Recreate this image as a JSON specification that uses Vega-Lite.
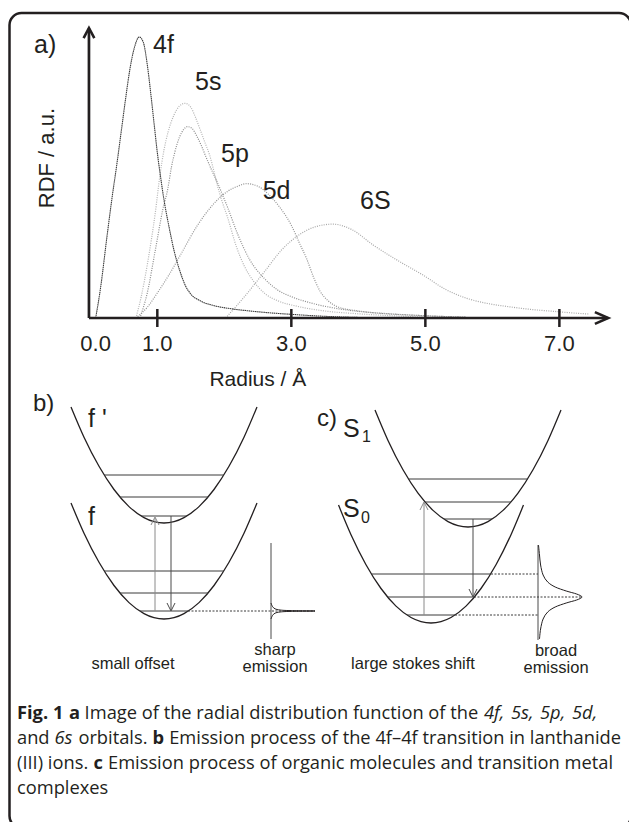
{
  "$schema": "https://vega.github.io/schema/vega-lite/v6.json",
  "width": 629,
  "height": 822,
  "padding": 0,
  "autosize": {"type": "none"},
  "background": "white",
  "config": {"view": {"stroke": null}},
  "resolve": {"scale": {"x": "independent", "y": "independent"}},
  "layer": [
    {
      "encoding": {
        "x": {"field": "px", "type": "quantitative", "scale": {"domain": [0, 629], "range": [0, 629], "nice": false, "zero": false}, "axis": null},
        "y": {"field": "py", "type": "quantitative", "scale": {"domain": [0, 822], "range": [0, 822], "nice": false, "zero": false}, "axis": null}
      },
      "layer": [
        {
          "data": {"values": [{"px": 9.5, "py": 13, "px2": 631, "py2": 828}]},
          "mark": {"type": "rect", "filled": false, "stroke": "#231f20", "strokeWidth": 2.5, "cornerRadius": 12, "clip": true},
          "encoding": {"x2": {"field": "px2"}, "y2": {"field": "py2"}}
        },
        {
          "data": {"values": [
            {"id": "fp", "o": 0, "px": 71, "py": 407}, {"id": "fp", "o": 1, "px": 84, "py": 437.2}, {"id": "fp", "o": 2, "px": 99, "py": 466.3}, {"id": "fp", "o": 3, "px": 114, "py": 489.5}, {"id": "fp", "o": 4, "px": 129, "py": 506.6}, {"id": "fp", "o": 5, "px": 144, "py": 517.6}, {"id": "fp", "o": 6, "px": 154, "py": 521.7}, {"id": "fp", "o": 7, "px": 164, "py": 523}, {"id": "fp", "o": 8, "px": 174, "py": 521.7}, {"id": "fp", "o": 9, "px": 184, "py": 517.6}, {"id": "fp", "o": 10, "px": 199, "py": 506.6}, {"id": "fp", "o": 11, "px": 214, "py": 489.5}, {"id": "fp", "o": 12, "px": 229, "py": 466.3}, {"id": "fp", "o": 13, "px": 244, "py": 437.2}, {"id": "fp", "o": 14, "px": 257, "py": 407},
            {"id": "f", "o": 0, "px": 71, "py": 503}, {"id": "f", "o": 1, "px": 84, "py": 533.2}, {"id": "f", "o": 2, "px": 99, "py": 562.3}, {"id": "f", "o": 3, "px": 114, "py": 585.5}, {"id": "f", "o": 4, "px": 129, "py": 602.6}, {"id": "f", "o": 5, "px": 144, "py": 613.6}, {"id": "f", "o": 6, "px": 154, "py": 617.7}, {"id": "f", "o": 7, "px": 164, "py": 619}, {"id": "f", "o": 8, "px": 174, "py": 617.7}, {"id": "f", "o": 9, "px": 184, "py": 613.6}, {"id": "f", "o": 10, "px": 199, "py": 602.6}, {"id": "f", "o": 11, "px": 214, "py": 585.5}, {"id": "f", "o": 12, "px": 229, "py": 562.3}, {"id": "f", "o": 13, "px": 244, "py": 533.2}, {"id": "f", "o": 14, "px": 257, "py": 503},
            {"id": "S1", "o": 0, "px": 375, "py": 410}, {"id": "S1", "o": 1, "px": 388, "py": 440.4}, {"id": "S1", "o": 2, "px": 403, "py": 469.8}, {"id": "S1", "o": 3, "px": 418, "py": 493.2}, {"id": "S1", "o": 4, "px": 433, "py": 510.4}, {"id": "S1", "o": 5, "px": 448, "py": 521.6}, {"id": "S1", "o": 6, "px": 458, "py": 525.6}, {"id": "S1", "o": 7, "px": 468, "py": 527}, {"id": "S1", "o": 8, "px": 478, "py": 525.6}, {"id": "S1", "o": 9, "px": 488, "py": 521.6}, {"id": "S1", "o": 10, "px": 503, "py": 510.4}, {"id": "S1", "o": 11, "px": 518, "py": 493.2}, {"id": "S1", "o": 12, "px": 533, "py": 469.8}, {"id": "S1", "o": 13, "px": 548, "py": 440.4}, {"id": "S1", "o": 14, "px": 561, "py": 410},
            {"id": "S0", "o": 0, "px": 338.5, "py": 505}, {"id": "S0", "o": 1, "px": 351, "py": 534.7}, {"id": "S0", "o": 2, "px": 366, "py": 564.7}, {"id": "S0", "o": 3, "px": 381, "py": 588.5}, {"id": "S0", "o": 4, "px": 396, "py": 606.1}, {"id": "S0", "o": 5, "px": 411, "py": 617.5}, {"id": "S0", "o": 6, "px": 421, "py": 621.6}, {"id": "S0", "o": 7, "px": 431, "py": 623}, {"id": "S0", "o": 8, "px": 441, "py": 621.6}, {"id": "S0", "o": 9, "px": 451, "py": 617.5}, {"id": "S0", "o": 10, "px": 466, "py": 606.1}, {"id": "S0", "o": 11, "px": 481, "py": 588.5}, {"id": "S0", "o": 12, "px": 496, "py": 564.7}, {"id": "S0", "o": 13, "px": 511, "py": 534.7}, {"id": "S0", "o": 14, "px": 523.5, "py": 505}
          ]},
          "mark": {"type": "line", "interpolate": "monotone", "color": "#231f20", "strokeWidth": 1.3},
          "encoding": {"detail": {"field": "id"}, "order": {"field": "o", "type": "quantitative"}}
        },
        {
          "data": {"values": [
            {"px": 104, "px2": 224, "py": 475, "py2": 475}, {"px": 120, "px2": 208, "py": 497, "py2": 497}, {"px": 141, "px2": 187, "py": 516, "py2": 516},
            {"px": 104, "px2": 224, "py": 571, "py2": 571}, {"px": 120, "px2": 208, "py": 593, "py2": 593}, {"px": 140, "px2": 188, "py": 611, "py2": 611},
            {"px": 408, "px2": 528, "py": 479, "py2": 479}, {"px": 425, "px2": 511, "py": 502, "py2": 502}, {"px": 444, "px2": 492, "py": 519, "py2": 519},
            {"px": 371, "px2": 491, "py": 574, "py2": 574}, {"px": 388, "px2": 474, "py": 597, "py2": 597}, {"px": 407, "px2": 455, "py": 615, "py2": 615}
          ]},
          "mark": {"type": "rule", "color": "#3a3a3a", "strokeWidth": 1},
          "encoding": {"x2": {"field": "px2"}, "y2": {"field": "py2"}}
        },
        {
          "data": {"values": [
            {"px": 155, "px2": 155, "py": 611, "py2": 518}, {"px": 424, "px2": 424, "py": 615, "py2": 503}
          ]},
          "mark": {"type": "rule", "color": "#8a8a8a", "strokeWidth": 1},
          "encoding": {"x2": {"field": "px2"}, "y2": {"field": "py2"}}
        },
        {
          "data": {"values": [
            {"px": 171, "px2": 171, "py": 516, "py2": 610}, {"px": 473, "px2": 473, "py": 519, "py2": 596},
            {"px": 271, "px2": 271, "py": 543, "py2": 639}, {"px": 538, "px2": 538, "py": 545, "py2": 640}
          ]},
          "mark": {"type": "rule", "color": "#4a4a4a", "strokeWidth": 1},
          "encoding": {"x2": {"field": "px2"}, "y2": {"field": "py2"}}
        },
        {
          "data": {"values": [
            {"id": "bu", "o": 0, "px": 151, "py": 525}, {"id": "bu", "o": 1, "px": 155, "py": 517}, {"id": "bu", "o": 2, "px": 159, "py": 525},
            {"id": "cu", "o": 0, "px": 420, "py": 510}, {"id": "cu", "o": 1, "px": 424, "py": 502}, {"id": "cu", "o": 2, "px": 428, "py": 510}
          ]},
          "mark": {"type": "line", "color": "#8a8a8a", "strokeWidth": 1},
          "encoding": {"detail": {"field": "id"}, "order": {"field": "o", "type": "quantitative"}}
        },
        {
          "data": {"values": [
            {"id": "bd", "o": 0, "px": 167, "py": 603}, {"id": "bd", "o": 1, "px": 171, "py": 611}, {"id": "bd", "o": 2, "px": 175, "py": 603},
            {"id": "cd", "o": 0, "px": 469, "py": 589}, {"id": "cd", "o": 1, "px": 473, "py": 597}, {"id": "cd", "o": 2, "px": 477, "py": 589}
          ]},
          "mark": {"type": "line", "color": "#4a4a4a", "strokeWidth": 1},
          "encoding": {"detail": {"field": "id"}, "order": {"field": "o", "type": "quantitative"}}
        },
        {
          "data": {"values": [
            {"px": 188, "px2": 315, "py": 611, "py2": 611},
            {"px": 491, "px2": 538, "py": 574, "py2": 574},
            {"px": 474, "px2": 582, "py": 597, "py2": 597},
            {"px": 455, "px2": 538, "py": 615, "py2": 615}
          ]},
          "mark": {"type": "rule", "color": "#3a3a3a", "strokeWidth": 1, "strokeDash": [2, 1.5]},
          "encoding": {"x2": {"field": "px2"}, "y2": {"field": "py2"}}
        },
        {
          "data": {"values": [
            {"id": "sharp", "o": 0, "px": 271, "py": 603}, {"id": "sharp", "o": 1, "px": 272.5, "py": 606.5}, {"id": "sharp", "o": 2, "px": 275, "py": 608.8}, {"id": "sharp", "o": 3, "px": 280, "py": 610}, {"id": "sharp", "o": 4, "px": 290, "py": 610.6}, {"id": "sharp", "o": 5, "px": 315, "py": 611}, {"id": "sharp", "o": 6, "px": 290, "py": 611.4}, {"id": "sharp", "o": 7, "px": 280, "py": 612}, {"id": "sharp", "o": 8, "px": 275, "py": 613.2}, {"id": "sharp", "o": 9, "px": 272.5, "py": 615.5}, {"id": "sharp", "o": 10, "px": 271, "py": 619},
            {"id": "broad", "o": 0, "px": 538.5, "py": 545}, {"id": "broad", "o": 1, "px": 539.5, "py": 555}, {"id": "broad", "o": 2, "px": 540.6, "py": 565}, {"id": "broad", "o": 3, "px": 543.1, "py": 575}, {"id": "broad", "o": 4, "px": 547.7, "py": 582}, {"id": "broad", "o": 5, "px": 555.2, "py": 587}, {"id": "broad", "o": 6, "px": 566.2, "py": 591}, {"id": "broad", "o": 7, "px": 576.6, "py": 594}, {"id": "broad", "o": 8, "px": 582, "py": 597}, {"id": "broad", "o": 9, "px": 576.6, "py": 600}, {"id": "broad", "o": 10, "px": 566.2, "py": 603}, {"id": "broad", "o": 11, "px": 555.2, "py": 607}, {"id": "broad", "o": 12, "px": 547.7, "py": 612}, {"id": "broad", "o": 13, "px": 543.1, "py": 619}, {"id": "broad", "o": 14, "px": 540.6, "py": 629}, {"id": "broad", "o": 15, "px": 539.5, "py": 639}
          ]},
          "mark": {"type": "line", "interpolate": "cardinal", "color": "#231f20", "strokeWidth": 1},
          "encoding": {"detail": {"field": "id"}, "order": {"field": "o", "type": "quantitative"}}
        },
        {
          "data": {"values": [
            {"px": 33, "py": 404, "t": "b)"}, {"px": 317, "py": 419, "t": "c)"}
          ]},
          "mark": {"type": "text", "align": "left", "baseline": "middle", "font": "Liberation Sans", "fontSize": 24, "color": "#231f20"},
          "encoding": {"text": {"field": "t"}}
        },
        {
          "data": {"values": [
            {"px": 88, "py": 427, "t": "f '"}, {"px": 88, "py": 525, "t": "f"}, {"px": 343, "py": 437, "t": "S"}, {"px": 343, "py": 517, "t": "S"}
          ]},
          "mark": {"type": "text", "align": "left", "baseline": "alphabetic", "font": "Liberation Sans", "fontSize": 25, "color": "#231f20"},
          "encoding": {"text": {"field": "t"}}
        },
        {
          "data": {"values": [
            {"px": 362, "py": 442, "t": "1"}, {"px": 361, "py": 523, "t": "0"}
          ]},
          "mark": {"type": "text", "align": "left", "baseline": "alphabetic", "font": "Liberation Sans", "fontSize": 16, "color": "#231f20"},
          "encoding": {"text": {"field": "t"}}
        },
        {
          "data": {"values": [
            {"px": 275, "py": 650, "t": "sharp"}, {"px": 275, "py": 667, "t": "emission"}, {"px": 133, "py": 664, "t": "small offset"},
            {"px": 413, "py": 664, "t": "large stokes shift"}, {"px": 556, "py": 651, "t": "broad"}, {"px": 556, "py": 668, "t": "emission"}
          ]},
          "mark": {"type": "text", "align": "center", "baseline": "middle", "font": "Liberation Sans", "fontSize": 16.5, "color": "#231f20"},
          "encoding": {"text": {"field": "t"}}
        },
        {
          "data": {"values": [
            {"px": 84.6, "py": 719, "t": "Image of the radial distribution function of the"},
            {"px": 17, "py": 744, "t": "and"},
            {"px": 78.4, "py": 744, "t": "orbitals."},
            {"px": 169.2, "py": 744, "t": "Emission process of the 4f–4f transition in lanthanide"},
            {"px": 17, "py": 769, "t": "(III) ions."},
            {"px": 108, "py": 769, "t": "Emission process of organic molecules and transition metal"},
            {"px": 17, "py": 794, "t": "complexes"}
          ]},
          "mark": {"type": "text", "align": "left", "baseline": "alphabetic", "font": "Open Sans", "fontSize": 18.3, "color": "#231f20"},
          "encoding": {"text": {"field": "t"}}
        },
        {
          "data": {"values": [
            {"px": 17, "py": 719, "t": "Fig. 1"}, {"px": 68.9, "py": 719, "t": "a"}, {"px": 152.5, "py": 744, "t": "b"}, {"px": 93.6, "py": 769, "t": "c"}
          ]},
          "mark": {"type": "text", "align": "left", "baseline": "alphabetic", "font": "Open Sans", "fontSize": 18.3, "fontWeight": "bold", "color": "#231f20"},
          "encoding": {"text": {"field": "t"}}
        },
        {
          "data": {"values": [
            {"px": 484, "py": 719, "t": "4f,"}, {"px": 511, "py": 719, "t": "5s,"}, {"px": 540, "py": 719, "t": "5p,"}, {"px": 572, "py": 719, "t": "5d,"},
            {"px": 54.4, "py": 744, "t": "6s"}
          ]},
          "mark": {"type": "text", "align": "left", "baseline": "alphabetic", "font": "Open Sans", "fontSize": 18.3, "fontStyle": "italic", "color": "#231f20"},
          "encoding": {"text": {"field": "t"}}
        }
      ]
    },
    {
      "encoding": {
        "x": {"field": "r", "type": "quantitative", "scale": {"domain": [0, 7.73], "range": [90.3, 608.3], "nice": false, "zero": false}, "axis": null},
        "y": {"field": "v", "type": "quantitative", "scale": {"domain": [0, 1], "range": [318, 37], "nice": false, "zero": false}, "axis": null}
      },
      "layer": [
        {
          "data": {"values": [
            {"orb": "5s", "r": 0.68, "v": 0}, {"orb": "5s", "r": 0.76, "v": 0.076}, {"orb": "5s", "r": 0.86, "v": 0.203}, {"orb": "5s", "r": 0.97, "v": 0.375}, {"orb": "5s", "r": 1.04, "v": 0.509}, {"orb": "5s", "r": 1.10, "v": 0.598}, {"orb": "5s", "r": 1.16, "v": 0.661}, {"orb": "5s", "r": 1.25, "v": 0.723}, {"orb": "5s", "r": 1.33, "v": 0.754}, {"orb": "5s", "r": 1.415, "v": 0.764}, {"orb": "5s", "r": 1.5, "v": 0.75}, {"orb": "5s", "r": 1.57, "v": 0.714}, {"orb": "5s", "r": 1.64, "v": 0.67}, {"orb": "5s", "r": 1.71, "v": 0.625}, {"orb": "5s", "r": 1.78, "v": 0.58}, {"orb": "5s", "r": 1.84, "v": 0.527}, {"orb": "5s", "r": 1.89, "v": 0.478}, {"orb": "5s", "r": 1.96, "v": 0.42}, {"orb": "5s", "r": 2.05, "v": 0.357}, {"orb": "5s", "r": 2.18, "v": 0.254}, {"orb": "5s", "r": 2.3, "v": 0.184}, {"orb": "5s", "r": 2.43, "v": 0.133}, {"orb": "5s", "r": 2.61, "v": 0.086}, {"orb": "5s", "r": 2.8, "v": 0.061}, {"orb": "5s", "r": 3.1, "v": 0.041}, {"orb": "5s", "r": 3.5, "v": 0.025}, {"orb": "5s", "r": 4.0, "v": 0.015}, {"orb": "5s", "r": 4.5, "v": 0.008}, {"orb": "5s", "r": 5.0, "v": 0.003},
            {"orb": "5p", "r": 0.74, "v": 0}, {"orb": "5p", "r": 0.85, "v": 0.089}, {"orb": "5p", "r": 0.97, "v": 0.241}, {"orb": "5p", "r": 1.08, "v": 0.384}, {"orb": "5p", "r": 1.16, "v": 0.464}, {"orb": "5p", "r": 1.21, "v": 0.536}, {"orb": "5p", "r": 1.26, "v": 0.589}, {"orb": "5p", "r": 1.33, "v": 0.643}, {"orb": "5p", "r": 1.39, "v": 0.67}, {"orb": "5p", "r": 1.45, "v": 0.681}, {"orb": "5p", "r": 1.52, "v": 0.674}, {"orb": "5p", "r": 1.59, "v": 0.647}, {"orb": "5p", "r": 1.66, "v": 0.612}, {"orb": "5p", "r": 1.73, "v": 0.571}, {"orb": "5p", "r": 1.81, "v": 0.527}, {"orb": "5p", "r": 1.88, "v": 0.491}, {"orb": "5p", "r": 1.96, "v": 0.446}, {"orb": "5p", "r": 2.05, "v": 0.393}, {"orb": "5p", "r": 2.2, "v": 0.298}, {"orb": "5p", "r": 2.38, "v": 0.207}, {"orb": "5p", "r": 2.6, "v": 0.14}, {"orb": "5p", "r": 2.8, "v": 0.099}, {"orb": "5p", "r": 3.0, "v": 0.076}, {"orb": "5p", "r": 3.3, "v": 0.053}, {"orb": "5p", "r": 3.7, "v": 0.033}, {"orb": "5p", "r": 4.2, "v": 0.019}, {"orb": "5p", "r": 5.0, "v": 0.008}, {"orb": "5p", "r": 5.6, "v": 0.003},
            {"orb": "5d", "r": 0.68, "v": 0}, {"orb": "5d", "r": 0.85, "v": 0.038}, {"orb": "5d", "r": 1.0, "v": 0.089}, {"orb": "5d", "r": 1.17, "v": 0.152}, {"orb": "5d", "r": 1.34, "v": 0.222}, {"orb": "5d", "r": 1.6, "v": 0.33}, {"orb": "5d", "r": 1.84, "v": 0.406}, {"orb": "5d", "r": 2.05, "v": 0.451}, {"orb": "5d", "r": 2.2, "v": 0.469}, {"orb": "5d", "r": 2.33, "v": 0.478}, {"orb": "5d", "r": 2.5, "v": 0.469}, {"orb": "5d", "r": 2.65, "v": 0.442}, {"orb": "5d", "r": 2.83, "v": 0.393}, {"orb": "5d", "r": 3.0, "v": 0.33}, {"orb": "5d", "r": 3.12, "v": 0.267}, {"orb": "5d", "r": 3.23, "v": 0.21}, {"orb": "5d", "r": 3.33, "v": 0.146}, {"orb": "5d", "r": 3.43, "v": 0.095}, {"orb": "5d", "r": 3.55, "v": 0.061}, {"orb": "5d", "r": 3.68, "v": 0.041}, {"orb": "5d", "r": 4.0, "v": 0.025}, {"orb": "5d", "r": 4.47, "v": 0.015}, {"orb": "5d", "r": 5.0, "v": 0.008}, {"orb": "5d", "r": 5.6, "v": 0.003},
            {"orb": "6S", "r": 2.02, "v": 0}, {"orb": "6S", "r": 2.3, "v": 0.076}, {"orb": "6S", "r": 2.6, "v": 0.165}, {"orb": "6S", "r": 2.85, "v": 0.241}, {"orb": "6S", "r": 3.13, "v": 0.298}, {"orb": "6S", "r": 3.35, "v": 0.324}, {"orb": "6S", "r": 3.62, "v": 0.334}, {"orb": "6S", "r": 3.9, "v": 0.315}, {"orb": "6S", "r": 4.22, "v": 0.26}, {"orb": "6S", "r": 4.6, "v": 0.203}, {"orb": "6S", "r": 4.97, "v": 0.152}, {"orb": "6S", "r": 5.3, "v": 0.102}, {"orb": "6S", "r": 5.62, "v": 0.07}, {"orb": "6S", "r": 5.9, "v": 0.053}, {"orb": "6S", "r": 6.22, "v": 0.041}, {"orb": "6S", "r": 6.6, "v": 0.03}, {"orb": "6S", "r": 6.9, "v": 0.024}, {"orb": "6S", "r": 7.2, "v": 0.018}, {"orb": "6S", "r": 7.45, "v": 0.014}
          ]},
          "mark": {"type": "line", "interpolate": "monotone", "strokeWidth": 1.2, "strokeDash": [1, 1.3]},
          "encoding": {
            "detail": {"field": "orb"},
            "color": {"field": "orb", "type": "nominal", "scale": {"domain": ["5s", "5p", "5d", "6S"], "range": ["#b4b4b4", "#8c8c8c", "#929292", "#a8a8a8"]}, "legend": null}
          }
        },
        {
          "data": {"values": [
            {"r": 0.08, "v": 0}, {"r": 0.15, "v": 0.102}, {"r": 0.25, "v": 0.292}, {"r": 0.32, "v": 0.42}, {"r": 0.40, "v": 0.554}, {"r": 0.47, "v": 0.679}, {"r": 0.53, "v": 0.786}, {"r": 0.59, "v": 0.884}, {"r": 0.66, "v": 0.964}, {"r": 0.73, "v": 1.0}, {"r": 0.79, "v": 0.982}, {"r": 0.85, "v": 0.902}, {"r": 0.90, "v": 0.804}, {"r": 0.95, "v": 0.696}, {"r": 1.00, "v": 0.589}, {"r": 1.05, "v": 0.5}, {"r": 1.10, "v": 0.42}, {"r": 1.17, "v": 0.33}, {"r": 1.25, "v": 0.24}, {"r": 1.34, "v": 0.165}, {"r": 1.42, "v": 0.115}, {"r": 1.49, "v": 0.088}, {"r": 1.65, "v": 0.06}, {"r": 1.83, "v": 0.045}, {"r": 2.1, "v": 0.033}, {"r": 2.34, "v": 0.026}, {"r": 2.7, "v": 0.018}, {"r": 3.0, "v": 0.013}, {"r": 3.5, "v": 0.006}, {"r": 4.0, "v": 0.002}
          ]},
          "mark": {"type": "line", "interpolate": "monotone", "color": "#3a3a3a", "strokeWidth": 1.1, "strokeDash": [1.5, 0.6]},
          "encoding": {}
        },
        {
          "data": {"values": [
            {"r": -0.02, "v": 0, "r2": -0.02, "v2": 1.03},
            {"r": -0.02, "v": 0, "r2": 7.72, "v2": 0}
          ]},
          "mark": {"type": "rule", "color": "#231f20", "strokeWidth": 2.7},
          "encoding": {"x2": {"field": "r2"}, "y2": {"field": "v2"}}
        },
        {
          "data": {"values": [
            {"r": 1, "v": 0.032, "r2": 1, "v2": -0.032}, {"r": 3, "v": 0.032, "r2": 3, "v2": -0.032},
            {"r": 5, "v": 0.032, "r2": 5, "v2": -0.032}, {"r": 7, "v": 0.032, "r2": 7, "v2": -0.032}
          ]},
          "mark": {"type": "rule", "color": "#231f20", "strokeWidth": 2.5},
          "encoding": {"x2": {"field": "r2"}, "y2": {"field": "v2"}}
        },
        {
          "data": {"values": [
            {"id": "xh", "o": 0, "r": 7.53, "v": 0.021}, {"id": "xh", "o": 1, "r": 7.73, "v": 0}, {"id": "xh", "o": 2, "r": 7.53, "v": -0.021},
            {"id": "yh", "o": 0, "r": -0.1, "v": 0.996}, {"id": "yh", "o": 1, "r": -0.02, "v": 1.032}, {"id": "yh", "o": 2, "r": 0.06, "v": 0.996}
          ]},
          "mark": {"type": "line", "color": "#231f20", "strokeWidth": 2.6, "strokeJoin": "miter"},
          "encoding": {"detail": {"field": "id"}, "order": {"field": "o", "type": "quantitative"}}
        },
        {
          "data": {"values": [
            {"r": 0.936, "v": 0.972, "t": "4f"}, {"r": 1.563, "v": 0.84, "t": "5s"}, {"r": 1.951, "v": 0.584, "t": "5p"},
            {"r": 2.573, "v": 0.452, "t": "5d"}, {"r": 4.025, "v": 0.416, "t": "6S"}, {"r": -0.84, "v": 0.972, "t": "a)"}
          ]},
          "mark": {"type": "text", "align": "left", "baseline": "middle", "font": "Liberation Sans", "fontSize": 25, "color": "#231f20"},
          "encoding": {"text": {"field": "t"}}
        },
        {
          "data": {"values": [
            {"r": 0.08, "v": -0.093, "t": "0.0"}, {"r": 1, "v": -0.093, "t": "1.0"}, {"r": 3, "v": -0.093, "t": "3.0"},
            {"r": 5, "v": -0.093, "t": "5.0"}, {"r": 7, "v": -0.093, "t": "7.0"}
          ]},
          "mark": {"type": "text", "align": "center", "baseline": "middle", "font": "Liberation Sans", "fontSize": 22, "color": "#231f20"},
          "encoding": {"text": {"field": "t"}}
        },
        {
          "data": {"values": [{"r": 2.5, "v": -0.221, "t": "Radius / Å"}]},
          "mark": {"type": "text", "align": "center", "baseline": "middle", "font": "Liberation Sans", "fontSize": 21, "color": "#231f20"},
          "encoding": {"text": {"field": "t"}}
        },
        {
          "data": {"values": [{"r": -0.646, "v": 0.569, "t": "RDF / a.u."}]},
          "mark": {"type": "text", "align": "center", "baseline": "middle", "angle": 270, "font": "Liberation Sans", "fontSize": 22, "color": "#231f20"},
          "encoding": {"text": {"field": "t"}}
        }
      ]
    }
  ]
}
